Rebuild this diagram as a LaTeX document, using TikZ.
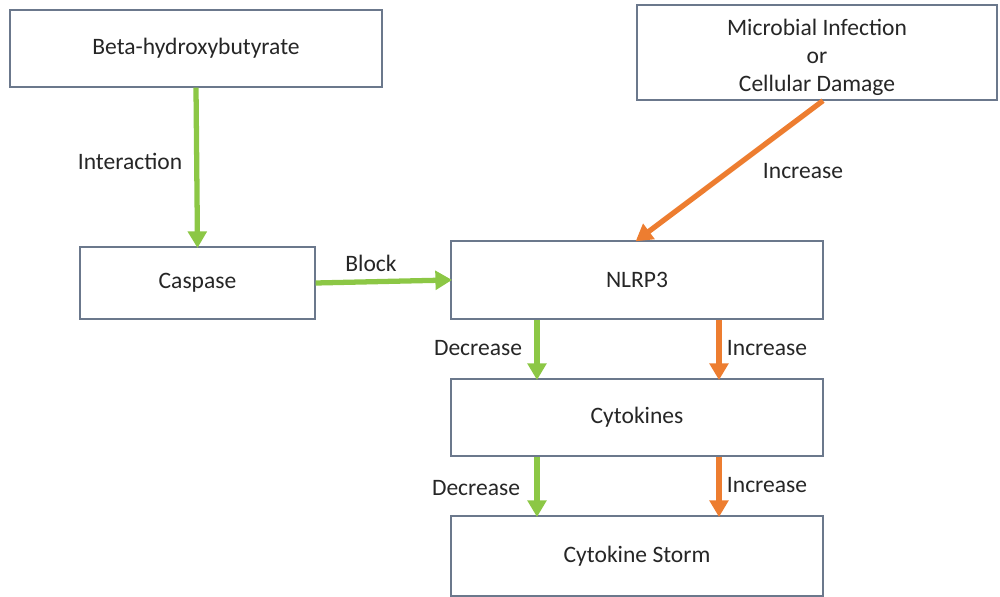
\documentclass[tikz,border=0pt]{standalone}
\usepackage{fontspec}
\setmainfont{Carlito}
\usepackage{tikz}
\usetikzlibrary{arrows.meta, calc}
\definecolor{boxGray}{rgb}{0.42, 0.47, 0.55}
\definecolor{arrowGreen}{rgb}{0.55, 0.78, 0.27}
\definecolor{arrowOrange}{rgb}{0.93, 0.49, 0.19}
\definecolor{textDark}{rgb}{0.15, 0.15, 0.15}
\tikzset{
	pathbox/.style={draw=boxGray, line width=0.8pt, fill=white, text=textDark, font=\fontsize{13.4}{15.9}\selectfont, inner sep=0pt},
	lbl/.style={text=textDark, font=\fontsize{13.4}{15.9}\selectfont, inner sep=0pt},
	greenarrow/.style={arrowGreen, line width=3pt, -{Triangle[width=10.5pt, length=9.5pt]}, shorten >=-1pt},
	orangearrow/.style={arrowOrange, line width=3pt, -{Triangle[width=10.5pt, length=9.5pt]}, shorten >=-1pt}
}

\begin{document}
\begin{tikzpicture}[x=0.02cm, y=-0.02cm]

  \useasboundingbox (0,0) rectangle (1000,597);

  \node[pathbox, minimum width=7.44cm, minimum height=1.54cm] (beta) at (196,48.5) {Beta-hydroxybutyrate};
  \node[pathbox, minimum width=7.2cm, minimum height=1.9cm,
    label={[lbl, align=center, yshift=-2.6pt]center:Microbial Infection\\ or\\ Cellular Damage}] (micro) at (817,52.5) {};
  \node[pathbox, minimum width=4.7cm, minimum height=1.44cm] (casp) at (197.5,283) {Caspase};
  \node[pathbox, minimum width=7.44cm, minimum height=1.56cm] (nlrp) at (637,280) {NLRP3};
  \node[pathbox, minimum width=7.44cm, minimum height=1.54cm] (cyto) at (637,417.5) {Cytokines};
  \node[pathbox, minimum width=7.44cm, minimum height=1.6cm] (storm) at (637,556) {Cytokine Storm};

  \coordinate (gx) at (537,0);
  \coordinate (ox) at (719,0);

  \draw[greenarrow] (beta.south) -- (casp.north);
  \draw[greenarrow] (casp.east) -- (nlrp.west);
  \draw[orangearrow] ([xshift=0.12cm]micro.south) -- (nlrp.north);
  \draw[greenarrow] (nlrp.south -| gx) -- (cyto.north -| gx);
  \draw[orangearrow] (nlrp.south -| ox) -- (cyto.north -| ox);
  \draw[greenarrow] (cyto.south -| gx) -- (storm.north -| gx);
  \draw[orangearrow] (cyto.south -| ox) -- (storm.north -| ox);

  \node[lbl] (interact) at (130,161) {Interaction};
  \node[lbl] (block) at (371,263) {Block};
  \node[lbl] (incmicro) at (803,171) {Increase};
  \node[lbl] (decnlrp) at (478,348) {Decrease};
  \node[lbl] (incnlrp) at (767,348) {Increase};
  \node[lbl] (deccyto) at (476,488) {Decrease};
  \node[lbl] (inccyto) at (767,485) {Increase};

\end{tikzpicture}
\end{document}
